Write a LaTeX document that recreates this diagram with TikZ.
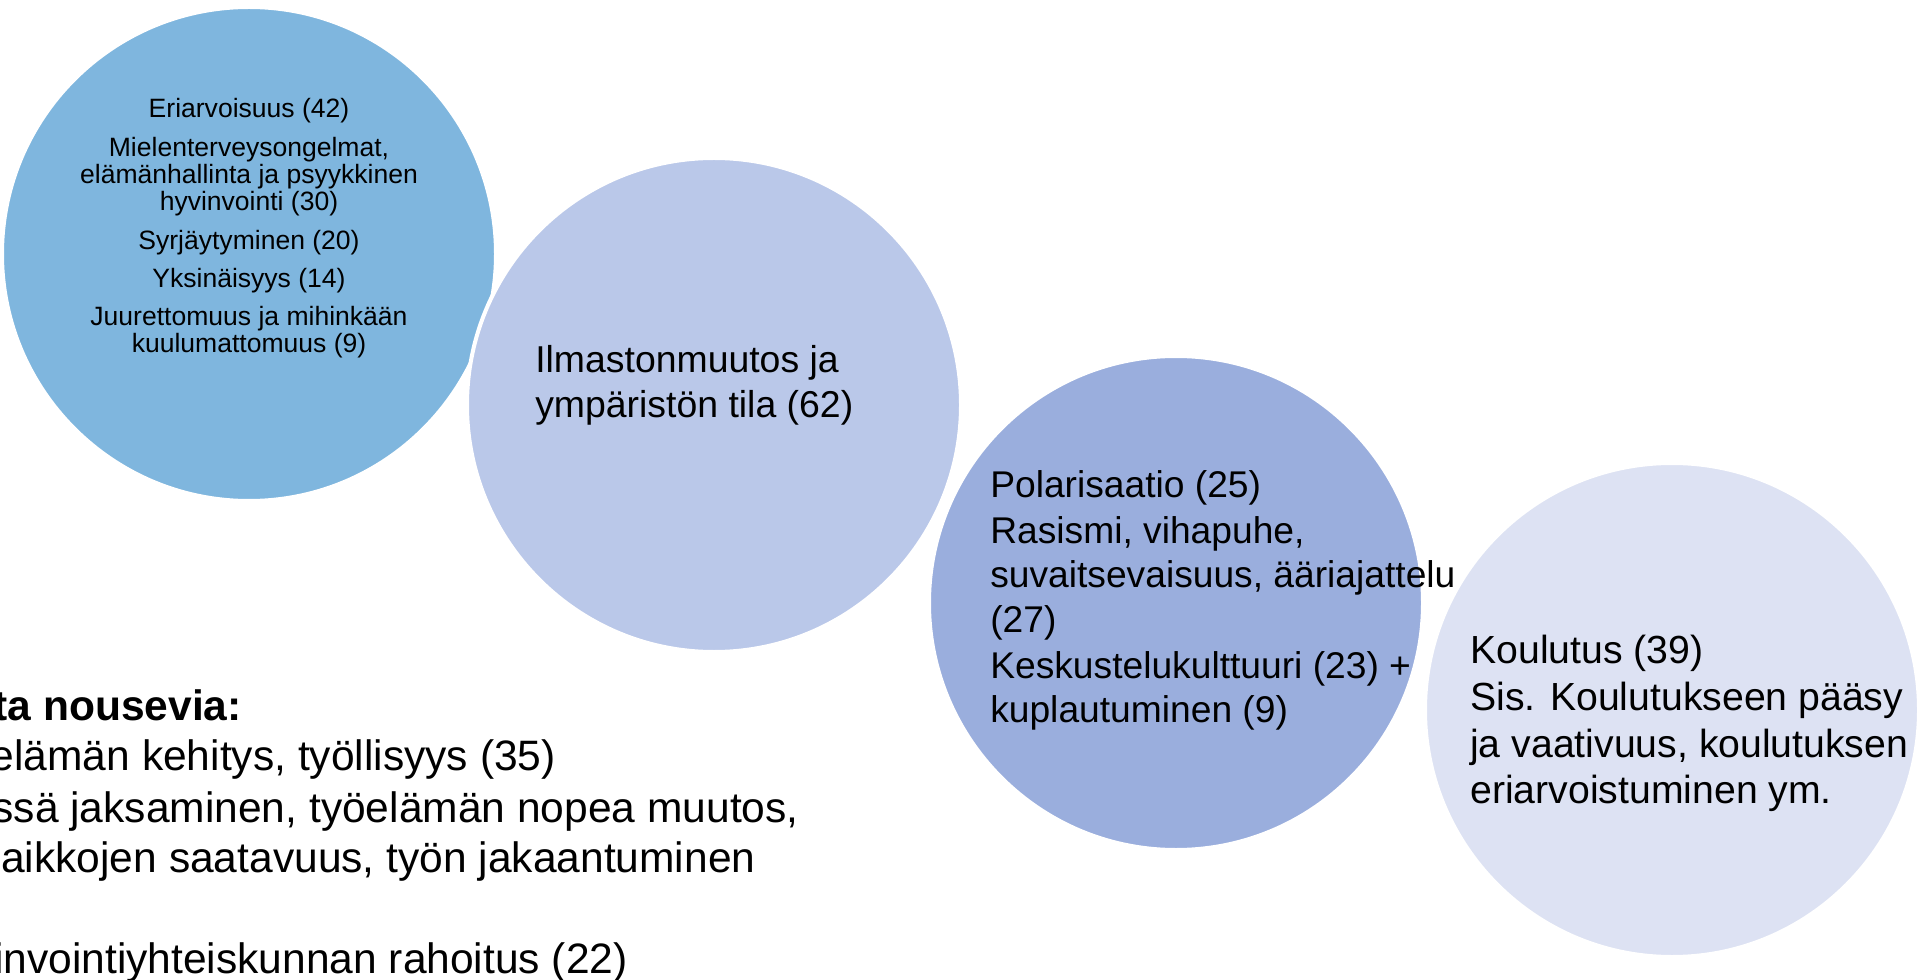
\documentclass[tikz,border=0pt]{standalone}
\usepackage{fontspec}
\setmainfont{Liberation Sans}
\definecolor{cone}{RGB}{127,182,222}
\definecolor{ctwo}{RGB}{186,200,233}
\definecolor{cthree}{RGB}{154,174,221}
\definecolor{cfour}{RGB}{221,226,243}
\begin{document}
\begin{tikzpicture}[x=0.75pt,y=-0.75pt,
  bub/.style={circle, draw=white, line width=3pt, minimum size=370.5pt, inner sep=0pt},
  smalltxt/.style={font=\fontsize{19.9pt}{21pt}\selectfont, inner sep=0pt, anchor=base},
  midtxt/.style={inner sep=0pt, anchor=base west},
  bigtxt/.style={font=\fontsize{31.9pt}{38pt}\selectfont, inner sep=0pt}]
\useasboundingbox (0,0) rectangle (1921,980);
% bubbles
\node[bub, fill=cone]   (b1) at (249,254) {};
\node[bub, fill=ctwo]   (b2) at (714,405) {};
\node[bub, fill=cthree] (b3) at (1176,603) {};
\node[bub, fill=cfour]  (b4) at (1672,710) {};
% bubble 1 text
\node[smalltxt] (t1a) at (249,118) {Eriarvoisuus (42)};
\node[smalltxt] (t1b) at (249,157) {Mielenterveysongelmat,};
\node[smalltxt] (t1c) at (249,184) {elämänhallinta ja psyykkinen};
\node[smalltxt] (t1d) at (249,211) {hyvinvointi (30)};
\node[smalltxt] (t1e) at (249,250) {Syrjäytyminen (20)};
\node[smalltxt] (t1f) at (249,288) {Yksinäisyys (14)};
\node[smalltxt] (t1g) at (249,326) {Juurettomuus ja mihinkään};
\node[smalltxt] (t1h) at (249,353) {kuulumattomuus (9)};
% bubble 2 text
\begin{scope}[every node/.append style={font=\fontsize{28.05pt}{34pt}\selectfont}]
\node[midtxt] (t2a) at (535,373) {Ilmastonmuutos ja};
\node[midtxt] (t2b) at (535,418) {ympäristön tila (62)};
\end{scope}
% bubble 3 text
\begin{scope}[every node/.append style={font=\fontsize{27.9pt}{34pt}\selectfont}]
\node[midtxt] (t3a) at (990,498) {Polarisaatio (25)};
\node[midtxt] (t3b) at (990,543) {Rasismi, vihapuhe,};
\node[midtxt] (t3c) at (990,587) {suvaitsevaisuus, ääriajattelu};
\node[midtxt] (t3d) at (990,632) {(27)};
\node[midtxt] (t3e) at (990,678) {Keskustelukulttuuri (23) +};
\node[midtxt] (t3f) at (990,722) {kuplautuminen (9)};
\end{scope}
% bubble 4 text
\begin{scope}[every node/.append style={font=\fontsize{29.4pt}{35pt}\selectfont}]
\node[midtxt] (t4a) at (1470,663) {Koulutus (39)};
\node[midtxt] (t4b) at (1470,710) {Sis. Koulutukseen pääsy};
\node[midtxt] (t4c) at (1470,757) {ja vaativuus, koulutuksen};
\node[midtxt] (t4d) at (1470,803) {eriarvoistuminen ym.};
\end{scope}
% bottom-left text (cut at the left edge)
\node[bigtxt, anchor=base east, font=\fontsize{31.9pt}{38pt}\selectfont\bfseries] (m1) at (242,720) {ta nousevia:};
\node[bigtxt, anchor=base east] (m2) at (556,770) {elämän kehitys, työllisyys (35)};
\node[bigtxt, anchor=base east] (m3) at (799,822) {ssä jaksaminen, työelämän nopea muutos,};
\node[bigtxt, anchor=base west] (m4) at (1,872) {aikkojen saatavuus, työn jakaantuminen};
\node[bigtxt, anchor=base east] (m5) at (628,973) {invointiyhteiskunnan rahoitus (22)};
\end{tikzpicture}
\end{document}
